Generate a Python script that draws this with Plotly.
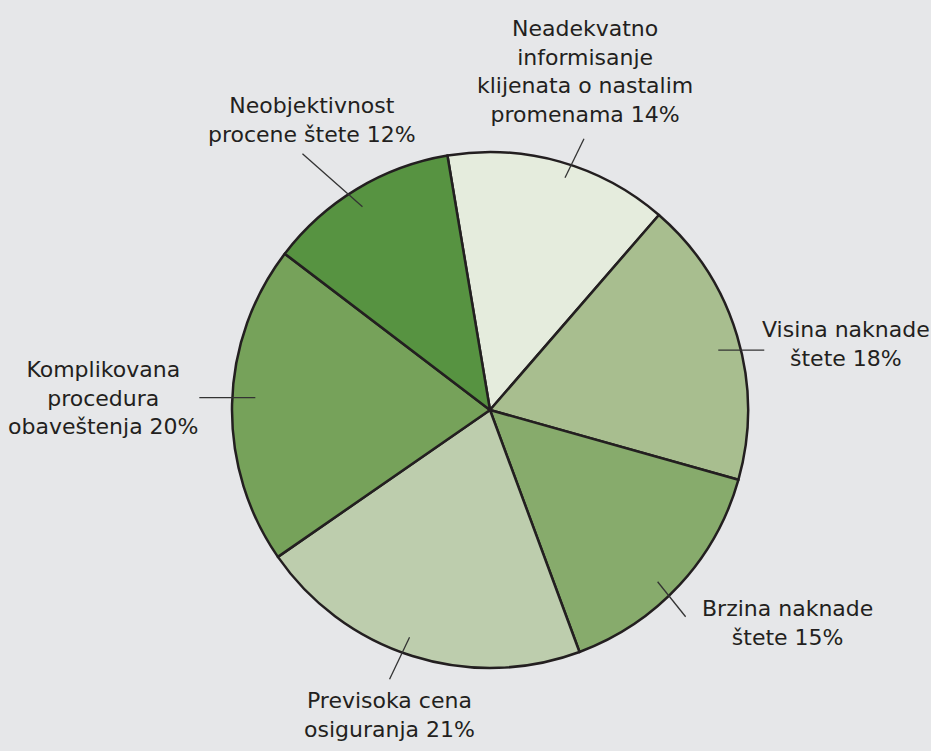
import math
import plotly.graph_objects as go

# ---- data ----
labels = [
    "Neadekvatno<br>informisanje<br>klijenata o nastalim<br>promenama 14%",
    "Visina naknade<br>štete 18%",
    "Brzina naknade<br>štete 15%",
    "Previsoka cena<br>osiguranja 21%",
    "Komplikovana<br>procedura<br>obaveštenja 20%",
    "Neobjektivnost<br>procene štete 12%",
]
values = [14, 18, 15, 21, 20, 12]
colors = ["#e5ecdd", "#a8be8f", "#87ab6c", "#bdcdad", "#76a25a", "#579341"]

# ---- layout / style ----
W, H = 931, 751
CX, CY, R = 490, 410, 258
ROTATION = -9.5  # degrees, clockwise from 12 o'clock

# leader-line styling per label
angle_nudge = [2.2, 2.0, 3.0, 2.0, 1.7, -1.0]
r_in = [244, 236, 240, 241, 235, 240]
leader_vec = [(19, -39), (46, 0), (28, 35), (-20, 42), (-56, 0), (-60, -53)]
text_off = [(1, -67), (82, -6), (102, 6), (0, 36), (-96, 0), (10, -34)]

fig = go.Figure(go.Pie(
    labels=labels,
    values=values,
    sort=False,
    direction="clockwise",
    rotation=ROTATION,
    textinfo="none",
    hoverinfo="label+value",
    marker=dict(colors=colors, line=dict(color="#231f20", width=2.5)),
    domain=dict(x=[(CX - R) / W, (CX + R) / W],
                y=[(H - CY - R) / H, (H - CY + R) / H]),
    showlegend=False,
))

total = sum(values)
cum = 0.0
shapes = []
annotations = []
for i, v in enumerate(values):
    mid = ROTATION + (cum + v / 2) / total * 360 + angle_nudge[i]
    cum += v
    a = math.radians(mid)
    x0 = CX + r_in[i] * math.sin(a)
    y0 = CY - r_in[i] * math.cos(a)
    x1 = x0 + leader_vec[i][0]
    y1 = y0 + leader_vec[i][1]
    shapes.append(dict(type="line", xref="paper", yref="paper",
                       x0=x0 / W, y0=1 - y0 / H, x1=x1 / W, y1=1 - y1 / H,
                       line=dict(color="#333333", width=1.3)))
    tx = x1 + text_off[i][0]
    ty = y1 + text_off[i][1]
    annotations.append(dict(text=labels[i], xref="paper", yref="paper",
                            x=tx / W, y=1 - ty / H, xanchor="center", yanchor="middle",
                            showarrow=False, align="center",
                            font=dict(family="DejaVu Sans", size=22, color="#231f20")))

fig.update_layout(
    width=W, height=H,
    margin=dict(l=0, r=0, t=0, b=0),
    paper_bgcolor="#e6e7e9",
    plot_bgcolor="#e6e7e9",
    shapes=shapes,
    annotations=annotations,
)

fig.write_html("out.html",
               config={"displayModeBar": False},
               post_script="document.body.style.margin='0';document.body.style.padding='0';"
                           "document.body.style.background='#e6e7e9';")
